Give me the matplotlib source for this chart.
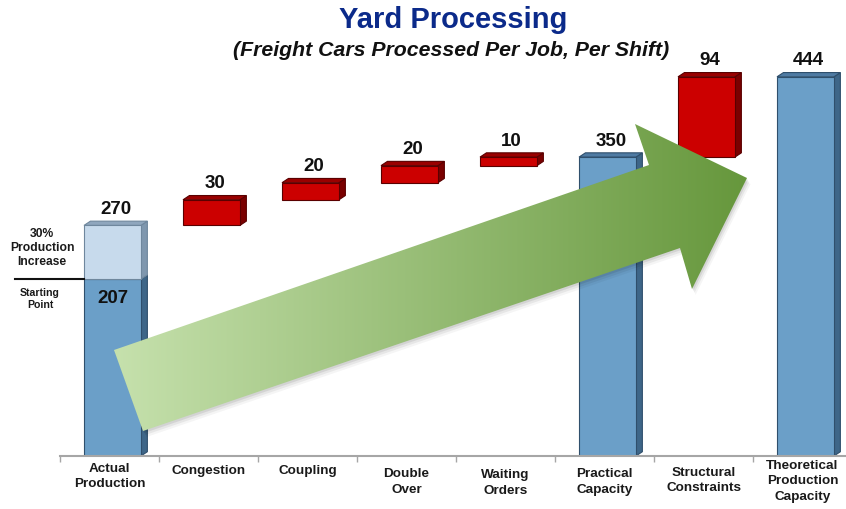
import numpy as np
import matplotlib
matplotlib.use("Agg")
import matplotlib.pyplot as plt
from matplotlib.patches import Polygon

plt.rcParams['font.family'] = ['Liberation Sans', 'DejaVu Sans']

# ---------------- data ----------------
categories = ["Actual\nProduction", "Congestion", "Coupling", "Double\nOver",
              "Waiting\nOrders", "Practical\nCapacity", "Structural\nConstraints",
              "Theoretical\nProduction\nCapacity"]
starting_point = 207
actual_target = 270
loss_values = [30, 20, 20, 10]          # Congestion, Coupling, Double Over, Waiting Orders
practical_capacity = 350
structural_constraints = 94
theoretical_capacity = 444

W, H = 846, 510
fig = plt.figure(figsize=(W / 100, H / 100), dpi=100)
ax = fig.add_axes([60 / W, (H - 457) / H, 792 / W, 427 / H])
ax.set_xlim(-0.5, 7.5)
ax.set_ylim(0, 500)
ax.patch.set_alpha(0)

bw = 0.575
shift = 0.03
dx, dy = 0.065, 5.0

BLUE = ("#6B9FC8", "#3E6688", "#4F7BA3", "#2F4F6C")
LBLUE = ("#C7DAEC", "#7F97AE", "#8FA6BD", "#6F879D")
RED = ("#CC0000", "#7A0000", "#990000", "#5A0000")


def bar3d(x, bottom, height, cols, z=2):
    front, side, top, edge = cols
    x0, x1 = x + shift - bw / 2, x + shift + bw / 2
    y0, y1 = bottom, bottom + height
    ax.add_patch(Polygon([(x1, y0), (x1 + dx, y0 + dy), (x1 + dx, y1 + dy), (x1, y1)],
                         closed=True, fc=side, ec=edge, lw=0.8, zorder=z))
    ax.add_patch(Polygon([(x0, y1), (x1, y1), (x1 + dx, y1 + dy), (x0 + dx, y1 + dy)],
                         closed=True, fc=top, ec=edge, lw=0.8, zorder=z))
    ax.add_patch(Polygon([(x0, y0), (x1, y0), (x1, y1), (x0, y1)],
                         closed=True, fc=front, ec=edge, lw=0.8, zorder=z))


lab_kw = dict(ha='center', va='bottom', fontsize=13.5, fontweight='bold', color='#111111')
lx = shift + dx / 2
pad = 5

# Actual production (starting point + increase)
bar3d(0, 0, starting_point, BLUE)
bar3d(0, starting_point, actual_target - starting_point, LBLUE, z=2.1)
ax.text(lx, actual_target + dy + pad, str(actual_target), **lab_kw)
ax.text(shift, starting_point - 11, str(starting_point), ha='center', va='top',
        fontsize=13.5, fontweight='bold', color='#111111', zorder=5)

# losses
bottom = actual_target
for i, v in enumerate(loss_values):
    bar3d(i + 1, bottom, v, RED)
    ax.text(i + 1 + lx, bottom + v + dy + pad, str(v), **lab_kw)
    bottom += v

bar3d(5, 0, practical_capacity, BLUE)
ax.text(5 + lx, practical_capacity + dy + pad, str(practical_capacity), **lab_kw)
bar3d(6, practical_capacity, structural_constraints, RED)
ax.text(6 + lx, practical_capacity + structural_constraints + dy + pad,
        str(structural_constraints), **lab_kw)
bar3d(7, 0, theoretical_capacity, BLUE)
ax.text(7 + lx, theoretical_capacity + dy + pad, str(theoretical_capacity), **lab_kw)

# axes styling
for s in ['left', 'right', 'top']:
    ax.spines[s].set_visible(False)
ax.spines['bottom'].set_color('#A6A6A6')
ax.spines['bottom'].set_linewidth(1.5)
ax.set_yticks([])
ax.set_xticks(np.arange(len(categories)))
ax.set_xticklabels([])
ax.tick_params(axis='x', which='major', length=0)
ax.set_xticks(np.arange(-0.5, len(categories) + 0.5, 1), minor=True)
ax.tick_params(axis='x', which='minor', length=4, color='#A6A6A6', width=1)

label_offsets = [4, 6, 6, 8, 9, 8, 7, 2]
for i, c in enumerate(categories):
    ax.annotate(c, xy=(i, 0), xycoords='data', xytext=(0, -label_offsets[i]),
                textcoords='offset points', ha='center', va='top', fontsize=9.7,
                fontweight='bold', color='#1a1a1a', linespacing=1.4,
                annotation_clip=False)

# left annotations
fig.text(42 / W, 1 - 248 / H, "30%\nProduction\nIncrease", ha='center', va='center',
         fontsize=8.7, fontweight='bold', color='#1a1a1a', linespacing=1.2)
fig.text(40 / W, 1 - 299 / H, "Starting\nPoint", ha='center', va='center',
         fontsize=7.6, fontweight='bold', color='#1a1a1a', linespacing=1.25)
ax.plot([-0.955, shift - bw / 2], [starting_point, starting_point], color='#111111',
        lw=1.5, clip_on=False, zorder=3)

# titles
fig.text(453 / W, 1 - 20 / H, "Yard Processing", ha='center', va='center',
         fontsize=21, fontweight='bold', color='#0B2A8A')
fig.text(451 / W, 1 - 50 / H, "(Freight Cars Processed Per Job, Per Shift)", ha='center',
         va='center', fontsize=15.3, fontweight='bold', fontstyle='italic', color='#111111')

# decorative gradient arrow (figure pixel space overlay)
ov = fig.add_axes([0, 0, 1, 1], zorder=5)
ov.set_xlim(0, W)
ov.set_ylim(H, 0)
ov.axis('off')
ov.patch.set_alpha(0)
arrow_pts = np.array([(114, 351), (649, 166), (635, 125), (747, 179),
                      (692, 290), (680, 249), (143, 432)])
# shadow
for k, a in [(6, 0.04), (4, 0.06), (2, 0.08)]:
    ov.add_patch(Polygon(arrow_pts + np.array([k * 0.6, k]), closed=True, fc='#000000',
                         ec='none', alpha=a, zorder=1))
yy, xx = np.mgrid[0:H, 0:W]
t = np.clip((xx - 114) / (747 - 114), 0, 1)
c0 = np.array([0xC6, 0xE1, 0xAD]) / 255
c1 = np.array([0x66, 0x97, 0x3C]) / 255
img = c0[None, None, :] * (1 - t[..., None]) + c1[None, None, :] * t[..., None]
im = ov.imshow(img, extent=(0, W, H, 0), origin='upper', zorder=2, interpolation='bilinear')
clip = Polygon(arrow_pts, closed=True, transform=ov.transData, fc='none', ec='none')
ov.add_patch(clip)
im.set_clip_path(clip)
ov.set_xlim(0, W)
ov.set_ylim(H, 0)

fig.savefig("out.png", dpi=100)
